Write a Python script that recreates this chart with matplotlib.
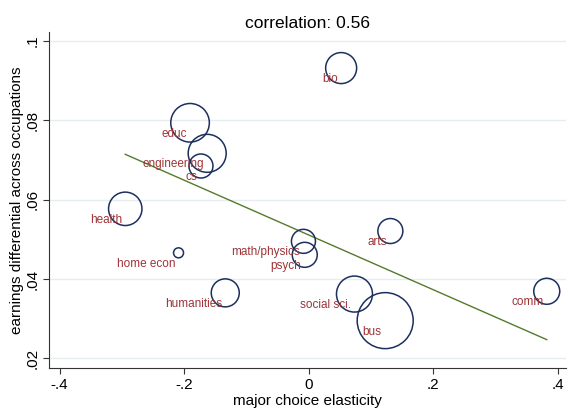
import numpy as np
import matplotlib.pyplot as plt

plt.rcParams['font.family'] = ['Liberation Sans', 'DejaVu Sans']

# major-level data
majors = ["bio", "educ", "engineering", "cs", "health", "home econ", "humanities",
          "math/physics", "psych", "arts", "social sci.", "bus", "comm"]
elasticity = [0.052, -0.1905, -0.163, -0.173, -0.2945, -0.209, -0.134,
              -0.0085, -0.0064, 0.131, 0.0734, 0.1227, 0.382]
earn_diff = [0.0932, 0.0794, 0.0717, 0.0685, 0.0577, 0.0466, 0.0365,
             0.0495, 0.0461, 0.0521, 0.0362, 0.0295, 0.0369]
weight = [240, 372, 361, 144, 279, 25, 196, 144, 156, 156, 324, 784, 169]

# fitted line (intercept, slope)
fit_intercept = 0.0511
fit_slope = -0.0691

x_ticks = [-0.4, -0.2, 0, 0.2, 0.4]
x_ticklabels = ["-.4", "-.2", "0", ".2", ".4"]
y_ticks = [0.02, 0.04, 0.06, 0.08, 0.1]
y_ticklabels = [".02", ".04", ".06", ".08", ".1"]

navy = "#1c2f5e"
maroon = "#9e3438"
green = "#557a2b"

fig = plt.figure(figsize=(5.68, 4.13), dpi=100)
ax = fig.add_axes([49 / 568, 1 - 368 / 413, 517 / 568, 336 / 413])

# marker area ~ weight; radius px -> points
sizes = [(1.44 * np.sqrt(w)) ** 2 for w in weight]
ax.scatter(elasticity, earn_diff, s=sizes, facecolors="none", edgecolors=navy,
           linewidths=1.1, zorder=3)

for name, x, y in zip(majors, elasticity, earn_diff):
    ax.annotate(name, (x, y), xytext=(-2.5, -8), textcoords="offset points",
                ha="right", va="center", fontsize=8.5, color=maroon, zorder=4)

xs = np.array([min(elasticity), max(elasticity)])
ax.plot(xs, fit_intercept + fit_slope * xs, color=green, lw=1.0, zorder=2)

ax.set_xlim(-0.4169, 0.4129)
ax.set_ylim(0.01755, 0.1023)
ax.set_xticks(x_ticks)
ax.set_xticklabels(x_ticklabels, fontsize=11)
ax.set_yticks(y_ticks)
ax.set_yticklabels(y_ticklabels, fontsize=11, rotation=90, va="center")
ax.tick_params(length=4, width=0.8, color="#333333", pad=3)
ax.grid(axis="y", color="#e6edf0", lw=1.0, zorder=0)
ax.set_axisbelow(True)

for s in ["top", "right"]:
    ax.spines[s].set_visible(False)
for s in ["left", "bottom"]:
    ax.spines[s].set_color("#333333")
    ax.spines[s].set_linewidth(0.8)

ax.set_xlabel("major choice elasticity", fontsize=11, labelpad=2)
ax.set_ylabel("earnings differential across occupations", fontsize=11, labelpad=1)
ax.set_title("correlation: 0.56", fontsize=12.5, pad=3)

fig.savefig("out.png", dpi=100)
